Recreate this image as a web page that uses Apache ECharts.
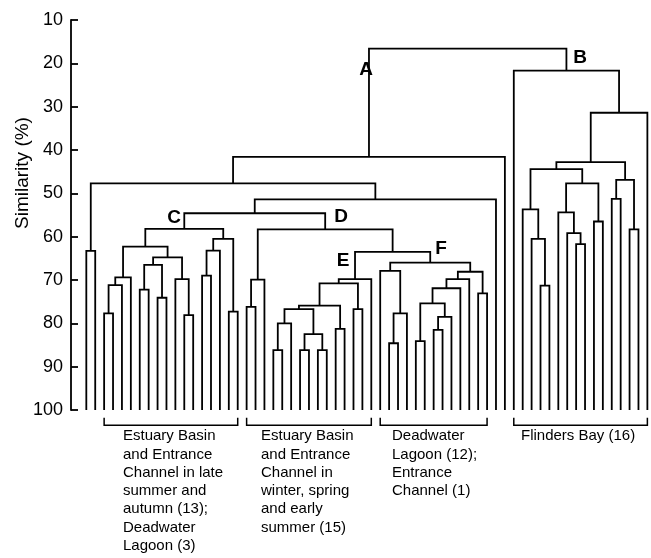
<!DOCTYPE html>
<html>
<head>
<meta charset="utf-8">
<script src="https://cdn.jsdelivr.net/npm/echarts@6/dist/echarts.min.js"></script>
<style>
html,body{margin:0;padding:0;background:#fff;}
#chart{width:651px;height:558px;}
</style>
</head>
<body>
<div id="chart"></div>
<script>
// ---- DATA ----
const leafCount = 64;
// Each merge joins two clusters (Lk = leaf k, Nk = merge k) at a similarity level (%)
const mergeLeft  = ['L0','L2','N1','N2','L6','L8','N4','L11','L10','N6','N3','L13','N11','L16','N12','N10',
  'L18','N16','L21','N18','L24','L26','N20','N19','L28','N23','L30','N25','N27',
  'L34','N29','L33','L37','L39','N33','N32','N35','N36','L44','N37','N31','N28','N17','N15','N43','N0','N45',
  'L51','L50','L49','L55','L54','L53','L57','N52','N49','L59','L61','N56','N55','N59','L48','N46'];
const mergeRight = ['L1','L3','L4','L5','L7','L9','N5','L12','N7','N8','N9','L14','L15','L17','N13','N14',
  'L19','L20','L22','L23','L25','L27','N21','N22','L29','N24','L31','N26','L32',
  'L35','L36','N30','L38','L40','L41','N34','L42','L43','L45','N38','N39','N40','N41','N42','L46','N44','L47',
  'L52','N47','N48','L56','N50','N51','L58','N53','N54','L60','L62','N57','N58','L63','N60','N61'];
const mergeSimilarity = [63.3,77.7,71.2,69.4,72.2,74.1,66.5,78.1,69.8,64.8,62.3,69.0,63.2,77.3,60.5,58.2,
  76.2,69.9,86.2,80.0,86.2,86.2,82.5,76.7,81.3,75.9,76.7,70.8,69.8,
  84.6,77.7,67.9,84.1,81.5,78.5,75.4,71.9,69.8,73.1,68.1,66.0,63.5,58.3,54.6,51.4,47.7,41.6,
  71.3,60.5,53.7,61.7,59.2,54.4,56.5,47.7,44.4,51.3,58.3,46.9,42.8,31.4,21.7,16.6];
const yTicks = [10,20,30,40,50,60,70,80,90,100];
const groupFirstLeaf = [2,18,33,48];
const groupLastLeaf  = [17,32,45,63];
const groupNames = [
  'Estuary Basin\nand Entrance\nChannel in late\nsummer and\nautumn (13);\nDeadwater\nLagoon (3)',
  'Estuary Basin\nand Entrance\nChannel in\nwinter, spring\nand early\nsummer (15)',
  'Deadwater\nLagoon (12);\nEntrance\nChannel (1)',
  'Flinders Bay (16)'
];
const nodeLetters = ['A','B','C','D','E','F'];

// ---- BUILD TREE SEGMENTS ----
const pos = {};
for (let i = 0; i < leafCount; i++) pos['L' + i] = {x: i, h: 100};
const treeLines = [];
for (let k = 0; k < mergeSimilarity.length; k++) {
  const a = pos[mergeLeft[k]], b = pos[mergeRight[k]], h = mergeSimilarity[k];
  treeLines.push({coords: [[a.x, a.h], [a.x, h], [b.x, h], [b.x, b.h]]});
  pos['N' + k] = {x: (a.x + b.x) / 2, h: h};
}
const bracketLines = groupFirstLeaf.map((f, i) => ({
  coords: [[f, 101.8], [f, 103.5], [groupLastLeaf[i], 103.5], [groupLastLeaf[i], 101.8]]
}));

const FONT = '"Liberation Sans", Arial, Helvetica, sans-serif';
const chart = echarts.init(document.getElementById('chart'));
const labelX = [123, 261, 392, 521];
const letterPos = [[366,70],[580,58],[174,218],[341,217],[343,261],[441,249]];
chart.setOption({
  animation: false,
  grid: {left: 71, top: 20, width: 577, height: 390},
  xAxis: {type: 'value', min: -1.72, max: 63.07, show: false},
  yAxis: {
    type: 'value', inverse: true, min: 10, max: 100, interval: 10,
    axisLine: {show: true, onZero: false, lineStyle: {color: '#000', width: 1.8}},
    axisTick: {show: true, inside: true, length: 7, lineStyle: {color: '#000', width: 1.8}},
    axisLabel: {color: '#000', fontSize: 18, fontFamily: FONT, margin: 8,
      formatter: v => yTicks.indexOf(v) >= 0 ? String(v) : ''},
    splitLine: {show: false}
  },
  series: [
    {type: 'lines', coordinateSystem: 'cartesian2d', polyline: true, silent: true,
      lineStyle: {color: '#000', width: 1.8, opacity: 1}, data: treeLines},
    {type: 'lines', coordinateSystem: 'cartesian2d', polyline: true, silent: true, clip: false,
      lineStyle: {color: '#000', width: 1.5, opacity: 1}, data: bracketLines}
  ],
  graphic: [
    {type: 'text', x: 23, y: 173, rotation: Math.PI / 2,
      style: {text: 'Similarity (%)', font: '19px ' + FONT, fill: '#000', textAlign: 'center', textVerticalAlign: 'middle'}}
  ].concat(groupNames.map((t, i) => ({
    type: 'text', x: labelX[i], y: 427,
    style: {text: t, font: '15px ' + FONT, lineHeight: 18.3, fill: '#000', textAlign: 'left', textVerticalAlign: 'top'}
  }))).concat(nodeLetters.map((t, i) => ({
    type: 'text', x: letterPos[i][0], y: letterPos[i][1],
    style: {text: t, font: 'bold 19px ' + FONT, fill: '#000', textAlign: 'center', textVerticalAlign: 'middle'}
  })))
});
</script>
</body>
</html>
